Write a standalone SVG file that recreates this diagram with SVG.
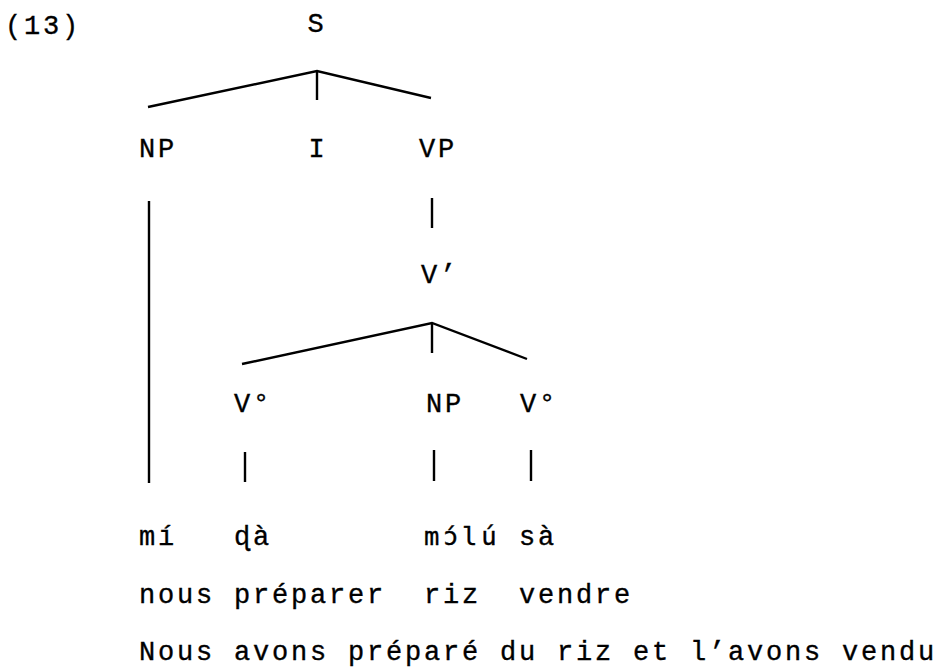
<svg xmlns="http://www.w3.org/2000/svg" width="946" height="671" viewBox="0 0 946 671">
<style>
text{font-family:"Liberation Mono","Courier New",monospace;font-size:27px;letter-spacing:2.8px;fill:#000;stroke:#000;stroke-width:0.35}
.c{text-anchor:middle}
.ipa{font-family:"DejaVu Sans Mono","Liberation Mono",monospace;font-size:25.5px;letter-spacing:3.7px}
.e{stroke:#000;stroke-width:2.4;fill:none;stroke-linecap:butt}
</style>
<rect width="946" height="671" fill="#fff"/>
<text x="5" y="34">(13)</text>
<g id="connectors">
<path class="e" d="M148,107 L317,71 L431,98"/>
<path class="e" d="M317,71 V100"/>
<path class="e" d="M149,201 V483"/>
<path class="e" d="M432,198 V228"/>
<path class="e" d="M242,364 L432,323 L527,359"/>
<path class="e" d="M432,323 V353"/>
<path class="e" d="M245,452 V482"/>
<path class="e" d="M434,450 V481"/>
<path class="e" d="M531,450 V481"/>
</g>
<g id="S"><text class="c" x="317" y="32">S</text></g>
<g id="NP1"><text class="c" x="158" y="157">NP</text></g>
<g id="I"><text class="c" x="318" y="157">I</text></g>
<g id="VP"><text class="c" x="438" y="157">VP</text></g>
<g id="Vbar"><text class="c" x="440" y="283">V’</text></g>
<g id="V1"><text class="c" x="253" y="412">V°</text></g>
<g id="NP2"><text class="c" x="445" y="412">NP</text></g>
<g id="V2"><text class="c" x="539" y="412">V°</text></g>
<g id="mi"><text x="139" y="545">mí</text></g>
<g id="da"><text x="234" y="545">ɖà</text></g>
<g id="molu"><text class="ipa" x="424" y="545">mɔ́lú</text></g>
<g id="sa"><text x="519" y="545">sà</text></g>
<g id="gloss"><text x="139" y="603" xml:space="preserve">nous préparer  riz  vendre</text></g>
<g id="translation"><text x="139" y="660">Nous avons préparé du riz et l’avons vendu</text></g>
</svg>
